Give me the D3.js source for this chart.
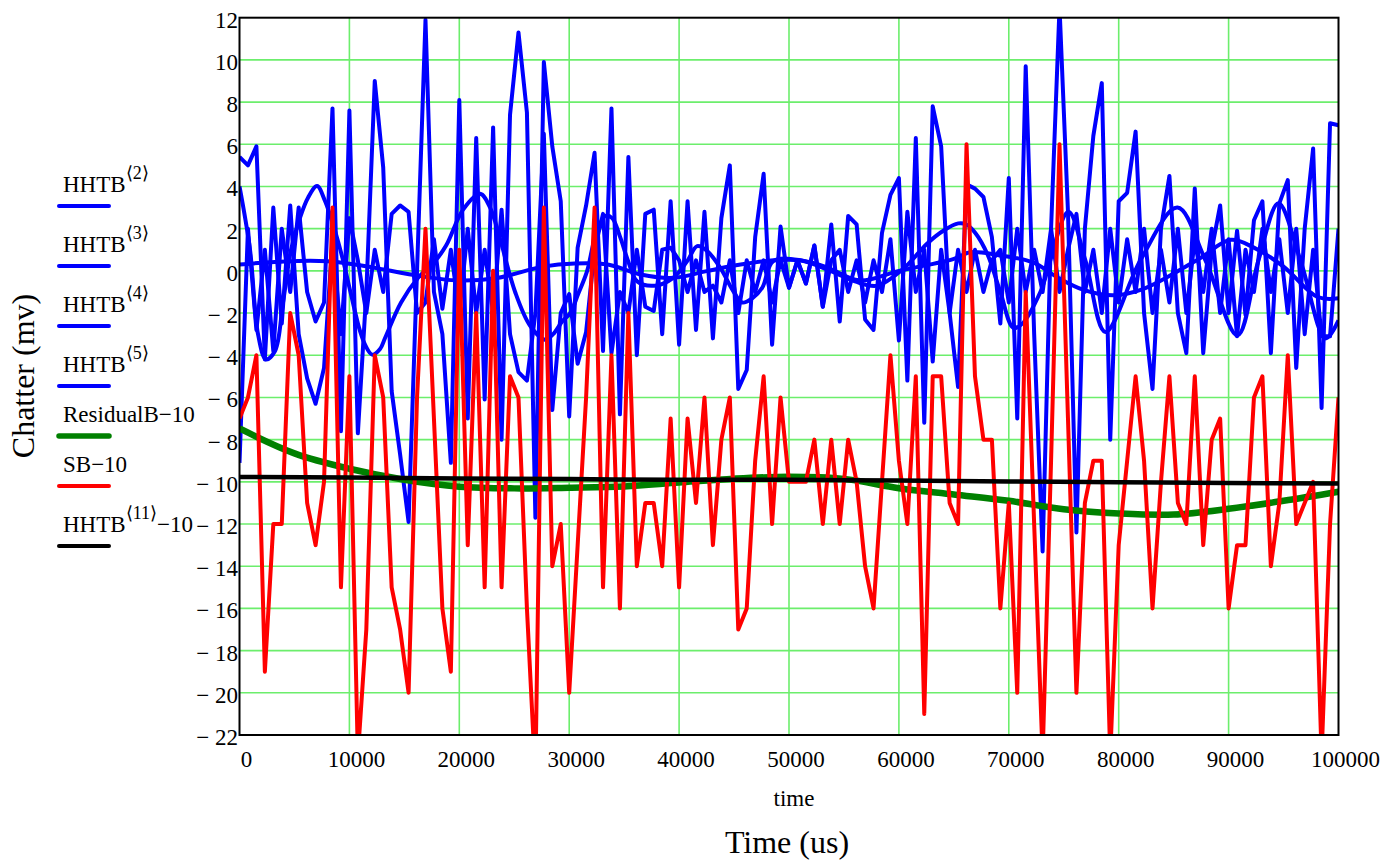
<!DOCTYPE html>
<html>
<head>
<meta charset="utf-8">
<script src="https://cdn.jsdelivr.net/npm/d3@7"></script>
<style>
  body { margin: 0; background: #fff; }
  text { font-family: "Liberation Serif", "Times New Roman", serif; fill: #000; }
</style>
</head>
<body>
<svg id="chart" width="1398" height="861"></svg>
<script>
// sample instants of the jagged traces (131 samples over 0..100000 us)
const sampleTimes = d3.range(131).map(i => i * 100000 / 130);

const hhtb2 = [
  -9.1, 2, -2.8, 1, -3.8, 2, -1, 3, -1, -2.4,
  -1.5, 7.7, -7.6, 7.6, -7.7, -1, 9, 4.9, -5.7, -8.7,
  -11.9, 0, 11.9, -1, -3, -9.1, 8.1, -7, 6.3, -6.1,
  6.8, -8, 7.4, 11.3, 7.5, -11.7, 9.9, 5.9, 3.3, -6.9,
  1.1, 3.1, 5.6, -3.8, 7.7, -6.8, 5.4, -4, 2.7, 2.9,
  -3, 3.3, -3.5, 3.3, -2.8, 2.8, -3.2, 2.5, 5, -5.6,
  -4.7, 1.6, 4.6, -3.5, 2.1, -0.8, 0.5, -0.6, 1.2, -1.7,
  2.2, -2.4, 2.6, 2.2, -2.3, -2.8, 1.8, 3.6, 4.4, -5.2,
  6.3, -7.2, 7.8, 5.9, -2, -5.5, 4.1, 3.9, 3.5, 1.6,
  -2.5, 4.4, -7, 9.7, -3, -13.3, 2, 12.5, 2.8, -12.4,
  2, 6.4, 8.9, -8, 3.3, 3.7, 6.6, -2, -5.6, 2,
  4.5, -2, -3.9, 3.9, -3.9, 1, 3.1, -2, 1.9, -2.1,
  2.4, 3.3, -3.9, 3.2, 4.3, -4.6, 2, 5.8, -6.5, 7.0,
  6.9
];

const hhtb3 = [
  5.4, 5.0, 5.9, -4.2, 3.0, -2.5, 3.1, -3.0, -5.1, -6.3,
  -4.6, 1.5, -3.0, 2.5, 0.5, -2.0, 1.0, -1.0, 2.7, 3.1,
  2.8, -2.0, -1.5, 1.5, -1.8, 1.0, -2.0, 2.0, -2.0, 1.0,
  -2.0, 2.9, -3.0, -4.8, -5.2, -2.0, 6.5, -6.6, -2.0, -1.1,
  -4.4, -2.9, 1.0, 2.7, -3.9, -1.0, -2.0, 1.0, -1.7, -1.9,
  1.0, 1.1, 0.5, -1.0, 0.5, -1.0, -0.7, -1.5, 0.5, -2.0,
  0.5, -1.0, 0.5, -1.5, 0.5, -0.8, 0.5, -0.6, 1.2, -1.7,
  0.5, 1.0, -1.0, 0.5, -1.5, 0.5, -1.0, 1.5, -3.3, 2.8,
  -1.0, 1.0, -4.3, 1.0, -2.0, 1.0, -1.0, 1.0, -1.0, 0.5,
  1.0, -1.5, 2.0, -1.0, 1.0, -1.0, 2.0, -1.0, 1.0, 2.7,
  -1.0, 1.0, -2.0, 2.0, -1.5, 1.5, -1.0, 2.0, -2.0, 1.0,
  -1.5, 2.0, -2.0, 1.5, -1.0, 2.0, -2.0, 1.5, -3.1, 1.0,
  -1.0, 2.0, -1.0, 1.5, -2.0, 2.0, -3.0, 1.0, -3.1, -3.1,
  2.0
];

const sbMinus10 = [
  -7, -6, -4, -19, -12, -12, -2, -4, -11, -13,
  -10, 3, -15, -5, -23, -17, -4, -6, -15, -17,
  -20, -6, 2, -7, -16, -19, 1, -13, -2, -15,
  0, -15, -5, -6, -16, -24, 3, -14, -12, -20,
  -13, -6, 3, -15, -4, -16, -2, -14, -11, -11,
  -14, -7, -15, -7, -11, -6, -13, -8, -6, -17,
  -16, -9, -5, -12, -6, -10, -10, -10, -8, -12,
  -8, -12, -8, -10, -14, -16, -10, -4, -9, -12,
  -5, -21, -5, -5, -11, -12, 6, -5, -8, -8,
  -16, -11, -20, -1, -12, -23, -9, 6, -7, -20,
  -11, -9, -9, -23, -13, -9, -5, -9, -16, -10,
  -5, -11, -12, -5, -13, -8, -7, -16, -13, -13,
  -6, -5, -14, -11, -4, -12, -11, -10, -23, -12,
  -6
];

// smooth traces, read at their turning points
const hhtb4Times = [0, 956, 1684, 2412, 3232, 3960, 4688, 5507, 6236, 7055,
  7783, 8694, 9422, 10150, 10970, 11516, 12062, 12790, 13245, 14702,
  16249, 17797, 18798, 20346, 21893, 22804, 23714, 25080, 26445, 27811,
  28539, 29358, 30087, 30815, 31634, 32362, 33273, 33910, 34638, 35366,
  36186, 37825, 39463, 40737, 41648, 42558, 43742, 44925, 45744, 46655,
  47565, 48566, 51024, 53755, 56000, 58033, 60400, 62585, 64040, 65406,
  66134, 66955, 68047, 69230, 70414, 71233, 72872, 75421, 76968, 78789,
  81975, 85343, 87892, 90805, 92717, 94537, 96540, 98816, 100000];
const hhtb4 = [4.0, 1.0, -3.0, -4.2, -3.8, -1.5, 1.0, 2.52, 3.47, 4.02,
  3.31, 1.89, 0.5, -1.12, -2.86, -3.6, -3.97, -3.7, -3.18, -1.5,
  -0.33, 0.46, 1.2, 2.9, 3.65, 3.0, 1.5, -1.0, -2.6, -3.26,
  -3.0, -2.4, -2.0, -1.1, 0.0, 1.6, 2.6, 2.5, 1.6, 0.46,
  -0.5, -0.7, -0.33, 0.46, 1.17, 0.94, 0.15, -0.96, -1.5, -1.3,
  -0.8, 0.46, 0.5, 0.0, -0.5, -0.7, 0.1, 1.3, 1.9, 2.25,
  2.2, 1.8, 0.8, -1.0, -2.7, -2.5, -1.0, 2.8, 0.5, -2.9,
  0.5, 3.0, 0.5, -3.06, 0.5, 3.2, 0.5, -3.2, -2.35];

const hhtb5Times = [0, 8000, 16500, 19700, 23300, 27600, 30500, 33500, 36500, 39500,
  42600, 45600, 48600, 51000, 53400, 56400, 60000, 65000, 66500, 69200,
  72200, 74400, 76800, 79500, 82000, 84400, 87400, 90200, 92300, 95000,
  98100, 100000];
const hhtb5 = [0.3, 0.46, -0.25, -0.45, -0.35, 0.2, 0.35, 0.3, -0.17, -0.33,
  0.0, 0.3, 0.5, 0.5, 0.18, -0.45, 0.0, 0.57, 0.88, 0.73,
  0.4, -0.3, -0.9, -1.16, -0.9, -0.3, 0.6, 1.47, 1.1, 0.2,
  -1.24, -1.3];

const residualTimes = d3.range(0, 100001, 5000);
const residualMinus10 = [-7.47, -8.65, -9.38, -9.9, -10.23, -10.31, -10.28, -10.22, -10.03, -9.85,
  -9.76, -9.86, -10.3, -10.6, -10.9, -11.3, -11.5, -11.55, -11.28, -10.9, -10.47];

const hhtb11Times = d3.range(0, 100001, 10000);
const hhtb11Minus10 = [-9.77, -9.8, -9.84, -9.87, -9.9, -9.9, -9.94, -9.98, -10.02, -10.05, -10.08];

const xTicks = d3.range(0, 100001, 10000);
const yTicks = d3.range(-22, 13, 2);

const FONT = "Liberation Serif, Times New Roman, serif";
const svg = d3.select("#chart");
const x = d3.scaleLinear().domain([0, 100000]).range([239.5, 1338.5]);
const y = d3.scaleLinear().domain([-22, 12]).range([735, 17.7]);

// grid
const grid = svg.append("g");
grid.selectAll(".gx").data(xTicks.slice(1, -1)).enter().append("line")
  .attr("x1", d => x(d)).attr("x2", d => x(d))
  .attr("y1", y(12)).attr("y2", y(-22))
  .attr("stroke", "#6cee6c").attr("stroke-width", 1.6);
grid.selectAll(".gy").data(yTicks.slice(1, -1)).enter().append("line")
  .attr("x1", x(0)).attr("x2", x(100000))
  .attr("y1", d => y(d)).attr("y2", d => y(d))
  .attr("stroke", "#6cee6c").attr("stroke-width", 1.6);

svg.append("clipPath").attr("id", "clip").append("rect")
  .attr("x", x(0)).attr("y", y(12))
  .attr("width", x(100000) - x(0)).attr("height", y(-22) - y(12));

const plot = svg.append("g").attr("clip-path", "url(#clip)");

const jagged = d3.line().x((d, i) => x(sampleTimes[i])).y(d => y(d));
function smooth(times) {
  return d3.line().curve(d3.curveCatmullRom).x((d, i) => x(times[i])).y(d => y(d));
}

const series = [
  { vals: hhtb2, gen: jagged, color: "#0000ff", w: 4 },
  { vals: hhtb3, gen: jagged, color: "#0000ff", w: 4 },
  { vals: hhtb4, gen: smooth(hhtb4Times), color: "#0000ff", w: 4 },
  { vals: hhtb5, gen: smooth(hhtb5Times), color: "#0000ff", w: 4 },
  { vals: residualMinus10, gen: smooth(residualTimes), color: "#008000", w: 6.5 },
  { vals: sbMinus10, gen: jagged, color: "#ff0000", w: 4 },
  { vals: hhtb11Minus10, gen: smooth(hhtb11Times), color: "#000000", w: 4.5 }
];

series.forEach(s => {
  plot.append("path")
    .attr("d", s.gen(s.vals))
    .attr("fill", "none")
    .attr("stroke", s.color)
    .attr("stroke-width", s.w)
    .attr("stroke-linejoin", "round");
});

// frame
svg.append("rect")
  .attr("x", x(0)).attr("y", y(12))
  .attr("width", x(100000) - x(0)).attr("height", y(-22) - y(12))
  .attr("fill", "none").attr("stroke", "#000").attr("stroke-width", 2);

// tick labels
const fmt = d => d < 0 ? "\u2212 " + (-d) : String(d);
svg.append("g").selectAll("text").data(yTicks).enter().append("text")
  .attr("x", 238).attr("y", d => y(d) + 10)
  .attr("text-anchor", "end").attr("font-size", 23).attr("font-family", FONT)
  .text(fmt);
svg.append("g").selectAll("text").data(xTicks).enter().append("text")
  .attr("x", d => x(d) + 7).attr("y", 767)
  .attr("text-anchor", "middle").attr("font-size", 23).attr("font-family", FONT)
  .text(d => d);

svg.append("text").attr("x", 794).attr("y", 806).attr("font-family", FONT)
  .attr("text-anchor", "middle").attr("font-size", 23).text("time");
svg.append("text").attr("x", 787).attr("y", 853).attr("font-family", FONT)
  .attr("text-anchor", "middle").attr("font-size", 32).text("Time (us)");
svg.append("text").attr("font-family", FONT)
  .attr("transform", "translate(34,376) rotate(-90)")
  .attr("text-anchor", "middle").attr("font-size", 32).text("Chatter (mv)");

// legend
const legendBase = ["HHTB", "HHTB", "HHTB", "HHTB", "ResidualB\u221210", "SB\u221210", "HHTB"];
const legendSup = ["2", "3", "4", "5", null, null, "11"];
const legendTail = ["", "", "", "", "", "", "\u221210"];
const legendY = [192, 252, 312, 372, 422, 472, 532];

const legend = svg.append("g");
legendBase.forEach((name, i) => {
  const t = legend.append("text").attr("x", 63).attr("y", legendY[i])
    .attr("font-size", 23).attr("font-family", FONT);
  t.append("tspan").text(name);
  if (legendSup[i]) {
    t.append("tspan").attr("dy", -13).attr("font-size", 18)
      .text("\u27e8" + legendSup[i] + "\u27e9");
    if (legendTail[i]) t.append("tspan").attr("dy", 13).attr("font-size", 23).text(legendTail[i]);
  }
  legend.append("line")
    .attr("x1", 59).attr("x2", 109)
    .attr("y1", legendY[i] + 14).attr("y2", legendY[i] + 14)
    .attr("stroke", series[i].color)
    .attr("stroke-width", series[i].w > 6 ? 5.5 : 4)
    .attr("stroke-linecap", "round");
});
</script>
</body>
</html>
